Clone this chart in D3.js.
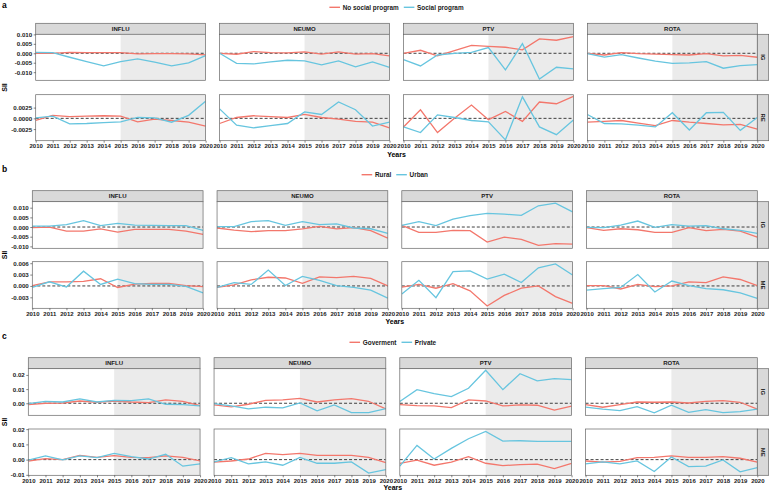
<!DOCTYPE html>
<html><head><meta charset="utf-8">
<script src="https://cdn.jsdelivr.net/npm/d3@7"></script>
<style>
body{margin:0;background:#fff;}
svg{display:block;font-family:"Liberation Sans",Arial,sans-serif;}
</style></head><body>
<svg id="chart" width="769" height="492"></svg>
<script>
// ---------- data ----------
const years = [2010,2011,2012,2013,2014,2015,2016,2017,2018,2019,2020];
const vaccines = ["INFLU","NEUMO","PTV","ROTA"];
const legendA = ["No social program","Social program"];
const legendB = ["Rural","Urban"];
const legendC = ["Goverment","Private"];
const rowLabelsA = ["IG","RE"];
const rowLabelsB = ["IG","ME"];
const rowLabelsC = ["IG","ME"];
const ticksA1 = [-0.010,-0.005,0.000,0.005,0.010];
const ticksA2 = [-0.0025,0.0000,0.0025];
const ticksB1 = [-0.010,-0.005,0.000,0.005,0.010];
const ticksB2 = [-0.003,0.000,0.003,0.006];
const ticksC1 = [0.00,0.01,0.02];
const ticksC2 = [-0.01,0.00,0.01,0.02];

// each array: [INFLU, NEUMO, PTV, ROTA] x years
const a_IG_red = [
 [0,0,0.0005,0.0003,0.0003,0.0003,-0.0003,-0.0002,-0.0002,-0.0003,-0.0008],
 [0,-0.0005,0.0009,0.0004,0.0002,0.0007,-0.0004,0.0007,-0.0004,-0.0002,-0.0014],
 [0,0.0016,-0.0014,0.0014,0.0042,0.0037,0.0032,0.0018,0.0076,0.0069,0.0088],
 [0,-0.0009,0.0004,-0.0002,-0.0004,-0.0007,-0.0009,-0.0002,-0.0014,-0.0011,-0.0021]];
const a_IG_blue = [
 [0.0005,0.0003,-0.0021,-0.0044,-0.0067,-0.0044,-0.0030,-0.0047,-0.0067,-0.0051,-0.0012],
 [0,-0.0053,-0.0056,-0.0046,-0.0037,-0.0040,-0.0061,-0.0040,-0.0072,-0.0046,-0.0075],
 [-0.0034,-0.0067,-0.0009,0,0.0005,0.0030,-0.0088,0.0051,-0.0136,-0.0074,-0.0083],
 [-0.0002,-0.0020,-0.0007,-0.0025,-0.0041,-0.0053,-0.0051,-0.0044,-0.0079,-0.0065,-0.0060]];
const a_RE_red = [
 [-0.0005,0.0007,0.0004,0.0005,0.0006,0.0005,-0.0008,-0.0002,-0.0005,-0.0009,-0.0018],
 [-0.0012,0.0002,0.0006,0.0004,0.0002,0.0009,0.0002,-0.0002,-0.0007,-0.0009,-0.0022],
 [-0.0020,0.0020,-0.0033,0,0.0031,-0.0003,0.0016,-0.0007,0.0038,0.0034,0.0051],
 [-0.0009,-0.0007,-0.0005,-0.0011,-0.0017,-0.0005,-0.0009,-0.0012,-0.0015,-0.0014,-0.0025]];
const a_RE_blue = [
 [0.0001,0.0005,-0.0013,-0.0012,-0.0010,-0.0008,0.0002,0.0001,-0.0009,0.0007,0.0040],
 [0.0022,-0.0016,-0.0022,-0.0017,-0.0012,0.0015,0.0009,0.0038,0.0020,-0.0018,-0.0009],
 [-0.0020,-0.0033,0.0008,0.0002,-0.0005,-0.0008,-0.0050,0.0050,-0.0020,-0.0038,-0.0004],
 [0.0009,-0.0012,-0.0013,-0.0016,-0.0020,0.0013,-0.0027,0.0013,0.0014,-0.0028,0.0002]];
const b_IG_red = [
 [-0.0003,0,-0.0021,-0.0021,-0.0010,-0.0026,-0.0012,-0.0012,-0.0012,-0.0021,-0.0038],
 [-0.0005,-0.0016,-0.0024,-0.0019,-0.0019,-0.0010,0.0003,-0.0010,-0.0003,-0.0019,-0.0057],
 [0.0009,-0.0028,-0.0028,-0.0017,-0.0019,-0.0078,-0.0052,-0.0064,-0.0095,-0.0086,-0.0088],
 [-0.0003,-0.0017,-0.0009,-0.0014,-0.0028,-0.0028,-0.0003,-0.0019,-0.0012,-0.0021,-0.0052]];
const b_IG_blue = [
 [0.0005,0.0005,0.0012,0.0033,0.0007,0.0019,0.0010,0.0009,0.0007,0.0007,-0.0017],
 [0.0002,0.0002,0.0028,0.0033,0.0009,0.0028,0.0012,0.0016,-0.0005,-0.0009,-0.0033],
 [0.0009,0.0028,0.0007,0.0041,0.0059,0.0071,0.0067,0.0060,0.0110,0.0124,0.0078],
 [-0.0002,-0.0003,0.0010,0.0031,-0.0002,0.0012,0.0005,0.0007,-0.0009,-0.0017,-0.0033]];
const b_ME_red = [
 [0.0001,0.0011,0.0011,0.0012,0.0019,-0.0004,0.0005,0.0007,0.0007,0.0001,-0.0002],
 [-0.0004,0.0003,0.0016,0.0023,0.0021,0.0007,0.0024,0.0022,0.0025,0.0020,0],
 [-0.0003,0.0004,-0.0006,0.0006,-0.0013,-0.0053,-0.0025,-0.0006,0,-0.0028,-0.0046],
 [0.0001,0.0001,-0.0008,0.0004,-0.0002,0,0.0011,0.0009,0.0024,0.0017,0.0001]];
const b_ME_blue = [
 [-0.0004,0.0011,-0.0003,0.0039,0.0004,0.0018,0.0006,0.0004,0.0004,-0.0001,-0.0018],
 [-0.0004,0.0009,0.0004,0.0042,0.0001,0.0025,0.0015,0.0001,-0.0004,-0.0011,-0.0032],
 [-0.0021,0.0015,-0.0031,0.0038,0.0040,0.0018,0.0031,0.0009,0.0048,0.0058,0.0029],
 [-0.0011,-0.0007,-0.0004,0.0030,-0.0016,0.0013,0.0001,-0.0007,-0.0010,-0.0018,-0.0033]];
const c_IG_red = [
 [-0.0009,0,0.0002,0.0016,0.0007,0.0016,0.0009,0.0005,0.0024,0.0014,-0.0016],
 [-0.0012,-0.0026,-0.0007,0.0021,0.0024,0.0035,0.0009,0.0024,0.0033,0.0014,-0.0040],
 [-0.0009,-0.0016,-0.0019,-0.0031,0.0024,0.0016,-0.0019,-0.0012,-0.0014,-0.0049,-0.0021],
 [-0.0009,-0.0028,-0.0009,0.0009,0.0007,0.0009,0.0002,0.0014,0.0019,0.0007,-0.0042]];
const c_IG_blue = [
 [-0.0002,0.0014,0.0009,0.0031,0.0009,0.0021,0.0019,0.0031,-0.0007,-0.0009,-0.0019],
 [-0.0002,-0.0019,-0.0040,-0.0028,-0.0033,0.0002,-0.0054,-0.0012,-0.0066,-0.0066,-0.0038],
 [0.0012,0.0096,0.0068,0.0047,0.0106,0.0233,0.0096,0.0209,0.0158,0.0174,0.0167],
 [-0.0028,-0.0042,-0.0052,-0.0024,-0.0068,-0.0014,-0.0064,-0.0045,-0.0066,-0.0059,-0.0042]];
const c_ME_red = [
 [-0.0009,0.0007,0,0.0028,0.0015,0.0026,0.0015,0.0013,0.0024,0.0015,-0.0009],
 [-0.0017,-0.0009,0.0004,0.0041,0.0033,0.0041,0.0028,0.0028,0.0028,0.0015,-0.0020],
 [-0.0024,-0.0004,-0.0037,-0.0017,0.0020,-0.0024,-0.0039,-0.0033,-0.0030,-0.0059,-0.0024],
 [-0.0009,-0.0017,-0.0011,0.0013,0.0015,0.0024,0.0015,0.0015,0.0020,0.0009,-0.0017]];
const c_ME_blue = [
 [-0.0004,0.0024,-0.0002,0.0024,0.0013,0.0041,0.0020,0.0004,0.0035,-0.0043,-0.0028],
 [-0.0015,0.0013,-0.0028,-0.0015,-0.0037,0.0015,-0.0024,-0.0024,-0.0015,-0.0089,-0.0065],
 [-0.0043,0.0093,0.0004,0.0074,0.0137,0.0185,0.0122,0.0124,0.0120,0.0120,0.0120],
 [-0.0028,-0.0015,-0.0028,-0.0009,-0.0078,0.0017,-0.0046,-0.0043,-0.0002,-0.0080,-0.0052]];

// ---------- layout / style ----------
const RED = "#F3776C", BLUE = "#67C5DF";
const SHADE_FROM = 2015;
const svg = d3.select("#chart");
const xRight = 757.3, gap = 14, stripW = 11.4, stripH = 11;

const sections = [
 {letter:"a", letterY:8, legend:legendA, legendY:7.3, x0:35.7, stripTop:23.3, titleY:157,
  rows:[{top:34.3,bottom:80.3,domain:[-0.0143,0.01005],ticks:ticksA1,fmt:".3f",label:rowLabelsA[0],red:a_IG_red,blue:a_IG_blue},
        {top:94.7,bottom:140.7,domain:[-0.0052,0.0055],ticks:ticksA2,fmt:".4f",label:rowLabelsA[1],red:a_RE_red,blue:a_RE_blue}]},
 {letter:"b", letterY:172, legend:legendB, legendY:174.7, x0:32.3, stripTop:190.7, titleY:324,
  rows:[{top:201.7,bottom:248.3,domain:[-0.011,0.0131],ticks:ticksB1,fmt:".3f",label:rowLabelsB[0],red:b_IG_red,blue:b_IG_blue},
        {top:261.7,bottom:308.3,domain:[-0.0059,0.0064],ticks:ticksB2,fmt:".3f",label:rowLabelsB[1],red:b_ME_red,blue:b_ME_blue}]},
 {letter:"c", letterY:339, legend:legendC, legendY:342.3, x0:28.3, stripTop:357.7, titleY:490,
  rows:[{top:368.7,bottom:415.3,domain:[-0.0085,0.0244],ticks:ticksC1,fmt:".2f",label:rowLabelsC[0],red:c_IG_red,blue:c_IG_blue},
        {top:429,bottom:475.3,domain:[-0.0103,0.0201],ticks:ticksC2,fmt:".2f",label:rowLabelsC[1],red:c_ME_red,blue:c_ME_blue}]}
];

let clipId = 0;
sections.forEach(sec => {
  const pw = (xRight - sec.x0 - 3*gap)/4;
  // section letter
  svg.append("text").attr("x",2).attr("y",sec.letterY).attr("font-size",8.5).attr("font-weight","bold").text(sec.letter);
  // legend
  const lg = svg.append("g");
  let cx = 0;
  sec.legend.forEach((name,i) => {
    const g = lg.append("g").attr("transform",`translate(${cx},0)`);
    g.append("line").attr("x1",0).attr("x2",10.6).attr("y1",0).attr("y2",0).attr("stroke",i?BLUE:RED).attr("stroke-width",1.4);
    const t = g.append("text").attr("x",13.3).attr("y",0).attr("dy","0.35em").attr("font-size",6.4).attr("font-weight","bold").attr("fill","#1a1a1a").text(name);
    cx += 13.3 + t.node().getComputedTextLength() + 5;
  });
  const lw = cx - 5;
  const mid = (sec.x0 + xRight)/2;
  lg.attr("transform",`translate(${mid - lw/2},${sec.legendY})`);
  // y title
  const yMid = (sec.rows[0].top + sec.rows[1].bottom)/2;
  svg.append("text").attr("transform",`translate(6.5,${yMid}) rotate(-90)`).attr("text-anchor","middle")
     .attr("font-size",7).attr("font-weight","bold").text("SII");
  // x title
  svg.append("text").attr("x",mid).attr("y",sec.titleY).attr("text-anchor","middle").attr("font-size",7).attr("font-weight","bold").text("Years");

  vaccines.forEach((vac, vi) => {
    const px0 = sec.x0 + vi*(pw+gap), px1 = px0 + pw;
    const x = d3.scaleLinear().domain([years[0], years[years.length-1]]).range([px0, px1]);
    // strip top
    svg.append("rect").attr("x",px0).attr("y",sec.stripTop).attr("width",pw).attr("height",stripH)
       .attr("fill","#D9D9D9").attr("stroke","#666").attr("stroke-width",0.7);
    svg.append("text").attr("x",(px0+px1)/2).attr("y",sec.stripTop+stripH/2).attr("dy","0.35em").attr("text-anchor","middle")
       .attr("font-size",6).attr("font-weight","bold").attr("fill","#1a1a1a").text(vac);

    sec.rows.forEach((row, ri) => {
      const y = d3.scaleLinear().domain(row.domain).range([row.bottom, row.top]);
      const id = "clip" + (clipId++);
      svg.append("clipPath").attr("id",id).append("rect").attr("x",px0).attr("y",row.top).attr("width",pw).attr("height",row.bottom-row.top);
      svg.append("rect").attr("x",px0).attr("y",row.top).attr("width",pw).attr("height",row.bottom-row.top).attr("fill","#fff");
      svg.append("rect").attr("x",x(SHADE_FROM)).attr("y",row.top).attr("width",px1-x(SHADE_FROM)).attr("height",row.bottom-row.top).attr("fill","#EBEBEB");
      const pg = svg.append("g").attr("clip-path",`url(#${id})`);
      pg.append("line").attr("x1",px0).attr("x2",px1).attr("y1",y(0)).attr("y2",y(0))
        .attr("stroke","#111").attr("stroke-width",0.8).attr("stroke-dasharray","3,2");
      const line = d3.line().x((d,i)=>x(years[i])).y(d=>y(d));
      pg.append("path").datum(row.red[vi]).attr("d",line).attr("fill","none").attr("stroke",RED).attr("stroke-width",1.3);
      pg.append("path").datum(row.blue[vi]).attr("d",line).attr("fill","none").attr("stroke",BLUE).attr("stroke-width",1.3);
      svg.append("rect").attr("x",px0).attr("y",row.top).attr("width",pw).attr("height",row.bottom-row.top)
        .attr("fill","none").attr("stroke","#666").attr("stroke-width",0.7);
      // y axis on first panel
      if (vi === 0) {
        const ya = svg.append("g").attr("transform",`translate(${px0},0)`)
          .call(d3.axisLeft(y).tickValues(row.ticks).tickFormat(d3.format(row.fmt)).tickSize(2).tickPadding(1.5));
        ya.select(".domain").remove();
        ya.selectAll("line").attr("stroke","#333").attr("stroke-width",0.6);
        ya.selectAll("text").attr("font-size",6.2).attr("font-weight","bold").attr("fill","#222")
          .attr("font-family","'Liberation Sans',Arial,sans-serif").text(function(d){return d3.format(row.fmt)(d).replace("\u2212","-");});
      }
      // x axis on bottom row
      if (ri === 1) {
        const xa = svg.append("g").attr("transform",`translate(0,${row.bottom})`)
          .call(d3.axisBottom(x).tickValues(years).tickFormat(d3.format("d")).tickSize(2).tickPadding(1.5));
        xa.select(".domain").remove();
        xa.selectAll("line").attr("stroke","#333").attr("stroke-width",0.6);
        xa.selectAll("text").attr("font-size",6).attr("font-weight","bold").attr("fill","#222")
          .attr("font-family","'Liberation Sans',Arial,sans-serif");
      }
      // right strip on last panel
      if (vi === 3) {
        svg.append("rect").attr("x",px1).attr("y",row.top).attr("width",stripW).attr("height",row.bottom-row.top)
          .attr("fill","#D9D9D9").attr("stroke","#666").attr("stroke-width",0.7);
        svg.append("text").attr("transform",`translate(${px1+stripW/2},${(row.top+row.bottom)/2}) rotate(90)`)
          .attr("text-anchor","middle").attr("dy","0.35em").attr("font-size",6).attr("font-weight","bold").attr("fill","#1a1a1a").text(row.label);
      }
    });
  });
});
</script>
</body></html>
